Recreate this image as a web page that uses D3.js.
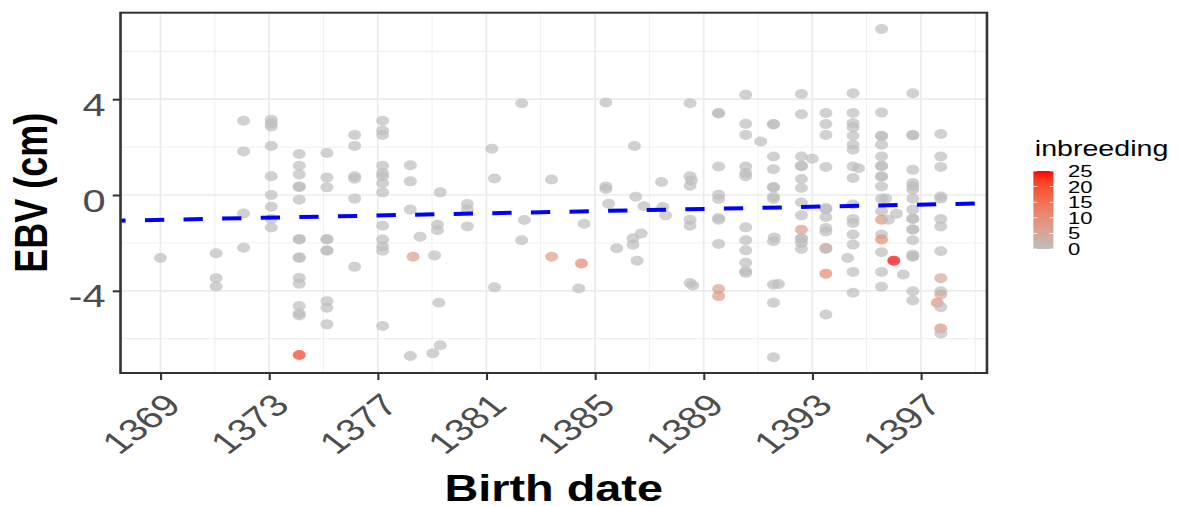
<!DOCTYPE html>
<html>
<head>
<meta charset="utf-8">
<script src="https://cdn.jsdelivr.net/npm/d3@7"></script>
<style>
  body { margin: 0; background: #fff; }
  svg { display: block; }
  text { font-family: "Liberation Sans", Arial, sans-serif; }
</style>
</head>
<body>
<div id="chart"></div>
<script>
// one entry per animal (groups on one line each)
var birthDate = [
  1369.0,
  1371.05, 1371.05, 1371.05,
  1372.06, 1372.06, 1372.06, 1372.06,
  1373.08, 1373.08, 1373.08, 1373.08, 1373.08, 1373.08, 1373.08, 1373.08, 1373.08,
  1374.11, 1374.11, 1374.11, 1374.11, 1374.11, 1374.11, 1374.11, 1374.11, 1374.11, 1374.11, 1374.11, 1374.11, 1374.11, 1374.11, 1374.11, 1374.11,
  1375.13, 1375.13, 1375.13, 1375.13, 1375.13, 1375.13, 1375.13, 1375.13, 1375.13, 1375.13,
  1376.15, 1376.15, 1376.15, 1376.15, 1376.15, 1376.15,
  1377.18, 1377.18, 1377.18, 1377.18, 1377.18, 1377.18, 1377.18, 1377.18, 1377.18, 1377.18, 1377.18, 1377.18, 1377.18,
  1378.2, 1378.2, 1378.2, 1378.2, 1378.3, 1378.56, 1379.09, 1379.03, 1379.3, 1379.2, 1379.2, 1379.25, 1379.3,
  1380.3, 1380.3, 1380.3, 1381.2, 1381.3, 1381.3,
  1382.3, 1382.4, 1382.3, 1383.4, 1383.4, 1384.5, 1384.6, 1384.4,
  1385.4, 1385.4, 1385.4, 1385.5, 1385.8, 1386.45, 1386.5, 1386.8, 1386.4, 1386.4, 1386.7, 1386.55,
  1387.45, 1387.5, 1387.6, 1388.5, 1388.5, 1388.55, 1388.5, 1388.5, 1388.5, 1388.5, 1388.6,
  1389.55, 1389.55, 1389.55, 1389.55, 1389.55, 1389.55, 1389.55, 1389.55, 1389.55, 1389.55,
  1390.55, 1390.55, 1390.55, 1390.55, 1390.55, 1390.55, 1390.55, 1390.55, 1390.55, 1390.55, 1390.55, 1390.55,
  1391.1, 1391.57, 1391.57, 1391.57, 1391.57, 1391.57, 1391.57, 1391.57, 1391.57, 1391.57, 1391.57, 1391.57, 1391.57, 1391.6, 1391.75,
  1392.6, 1392.6, 1392.6, 1392.6, 1392.6, 1392.6, 1392.6, 1392.6, 1392.6, 1392.6, 1392.6, 1392.6, 1392.6, 1392.6, 1393.0,
  1393.5, 1393.5, 1393.5, 1393.5, 1393.5, 1393.5, 1393.5, 1393.5, 1393.5, 1393.5, 1393.5, 1393.5, 1393.5,
  1394.5, 1394.5, 1394.5, 1394.5, 1394.5, 1394.5, 1394.5, 1394.5, 1394.5, 1394.5, 1394.5, 1394.5, 1394.5, 1394.5, 1394.5, 1394.5, 1394.7, 1394.3,
  1395.55, 1395.55, 1395.55, 1395.55, 1395.55, 1395.55, 1395.55, 1395.55, 1395.55, 1395.55, 1395.55, 1395.55, 1395.55, 1395.55, 1395.55, 1395.55, 1395.55, 1395.55, 1395.55,
  1395.7, 1395.8, 1396.1, 1396.0, 1396.35,
  1396.7, 1396.7, 1396.7, 1396.7, 1396.7, 1396.7, 1396.7, 1396.7, 1396.7, 1396.7, 1396.7, 1396.7, 1396.7, 1396.7, 1396.7, 1396.7, 1396.7, 1396.7, 1396.7,
  1397.73, 1397.73, 1397.73, 1397.73, 1397.73, 1397.73, 1397.73, 1397.73, 1397.73, 1397.73, 1397.73, 1397.6, 1397.73, 1397.73, 1397.73
];

var ebv = [
  -2.63,
  -2.43, -3.47, -3.82,
  3.10, 1.82, -0.77, -2.20,
  3.14, 3.00, 2.86, 2.05, 0.78, 0.00, -0.49, -1.00, -1.36,
  1.71, 1.22, 0.86, 0.33, 0.36, -0.20, -1.86, -1.84, -2.63, -2.60, -3.46, -3.70, -4.63, -4.95, -5.03, -6.68,
  1.75, 0.73, 0.32, -1.86, -1.84, -2.33, -2.31, -4.43, -4.71, -5.40,
  2.51, 2.05, 0.78, 0.68, -0.15, -3.00,
  3.10, 2.69, 2.51, 1.22, 0.92, 0.78, 0.50, 0.11, -1.28, -1.86, -2.14, -2.33, -5.47,
  1.24, 0.57, -0.61, -6.72, -2.58, -1.74, -2.52, -6.61, 0.11, -1.24, -1.47, -4.50, -6.27,
  -0.38, -0.61, -1.31, 1.93, 0.69, -3.85,
  3.83, -1.04, -1.89, 0.65, -2.58, -2.86, -1.20, -3.90,
  3.86, 0.36, 0.25, -0.36, -2.22, 2.05, -0.07, -0.47, -1.81, -2.08, -1.61, -2.74,
  0.54, -0.50, -0.85, 3.83, 0.78, 0.61, 0.39, -1.03, -1.28, -3.67, -3.78,
  3.42, 3.40, 1.19, 0.01, -0.17, -0.96, -1.03, -2.04, -3.92, -4.22,
  4.18, 2.97, 2.51, 1.19, 0.92, 0.78, -1.35, -1.89, -2.31, -2.83, -3.18, -3.25,
  2.23, 2.96, 2.94, 1.61, 1.08, 0.33, 0.31, -0.06, -0.17, -1.93, -3.74, -4.50, -6.77, -1.77, -3.72,
  4.22, 3.37, 1.61, 1.22, 1.20, 0.67, 0.29, -0.31, -0.85, -1.45, -1.83, -1.81, -2.00, -2.25, 1.51,
  3.42, 2.96, 2.51, 1.17, -0.54, -0.60, -0.92, -1.38, -1.52, -2.21, -2.25, -3.29, -4.99,
  4.25, 3.42, 3.00, 2.83, 2.47, 2.10, 1.89, 1.19, 0.71, -0.40, -1.00, -1.17, -1.65, -2.07, -3.21, -4.08, 1.12, -2.63,
  6.93, 3.44, 2.47, 2.45, 2.10, 1.61, 1.22, 1.20, 0.78, 0.76, 0.36, -0.15, -0.68, -1.03, -1.65, -1.86, -2.39, -3.21, -3.83,
  -0.15, -1.03, -0.78, -2.74, -3.32,
  4.25, 2.51, 2.49, 1.05, 0.50, 0.36, 0.22, -0.15, -0.61, -1.00, -0.98, -1.45, -1.43, -1.89, -2.49, -2.58, -2.56, -4.02, -4.40,
  2.55, 1.61, 1.17, -0.06, -0.15, -1.00, -1.31, -2.35, -3.47, -4.02, -4.15, -4.50, -4.68, -5.57, -5.78
];

var inbreeding = [
  0,
  0, 0, 0,
  0, 0, 0, 0,
  0, 0, 0, 0, 0, 0, 0, 0, 0,
  0, 0, 0, 0, 0, 0, 0, 0, 0, 0, 0, 0, 0, 0, 0, 22,
  0, 0, 0, 0, 0, 0, 0, 0, 0, 0,
  0, 0, 0, 0, 0, 0,
  0, 0, 0, 0, 0, 0, 0, 0, 0, 0, 0, 0, 0,
  0, 0, 0, 0, 7, 0, 0, 0, 0, 0, 0, 0, 0,
  0, 0, 0, 0, 0, 0,
  0, 0, 0, 0, 7, 11, 0, 0,
  0, 0, 0, 0, 0, 0, 0, 0, 0, 0, 0, 0,
  0, 0, 0, 0, 0, 0, 0, 0, 0, 0, 0,
  0, 0, 0, 0, 0, 0, 0, 0, 6, 8,
  0, 0, 0, 0, 0, 0, 0, 0, 0, 0, 0, 0,
  0, 0, 0, 0, 0, 0, 0, 0, 0, 0, 0, 0, 0, 0, 0,
  0, 0, 0, 0, 0, 0, 0, 0, 0, 7, 0, 0, 0, 0, 0,
  0, 0, 0, 0, 0, 0, 0, 0, 0, 9, 0, 11, 0,
  0, 0, 0, 0, 0, 0, 0, 0, 0, 0, 0, 0, 0, 0, 0, 0, 0, 0,
  0, 0, 0, 0, 0, 0, 0, 0, 0, 0, 0, 0, 0, 9, 0, 10, 0, 0, 0,
  0, 0, 0, 25, 0,
  0, 0, 0, 0, 0, 0, 0, 0, 0, 0, 0, 0, 0, 0, 0, 0, 0, 0, 0,
  0, 0, 0, 0, 0, 0, 0, 0, 5, 0, 4, 9, 0, 9, 0
];

var xTicks = [1369, 1373, 1377, 1381, 1385, 1389, 1393, 1397];
var xMinor = [1371, 1375, 1379, 1383, 1387, 1391, 1395, 1399];
var yTicks = [-4, 0, 4];
var yMinor = [-6, -2, 2, 6];
var legendTicks = [0, 5, 10, 15, 20, 25];

// fitted trend (dashed line), value at both ends of the x range
var trendYear = [1367.53, 1399.43];
var trendEbv = [-1.07, -0.345];

var width = 1181, height = 506;
var stretch = 1.3; // the reference is wider than it is tall, drawn stretched
var vw = width / stretch;

var svg = d3.select("#chart").append("svg")
    .attr("width", width)
    .attr("height", height)
    .attr("viewBox", "0 0 " + vw + " " + height)
    .attr("preserveAspectRatio", "none");

var panel = {left: 92.7, right: 759.2, top: 12.7, bottom: 373};

var x = d3.scaleLinear().domain([1367.53, 1399.43]).range([panel.left, panel.right]);
var y = d3.scaleLinear().domain([-7.43, 7.61]).range([panel.bottom, panel.top]);
var color = d3.scaleLinear().domain([0, 25]).range(["#bebebe", "#ff0000"])
    .interpolate(d3.interpolateLab);

svg.append("clipPath").attr("id", "clip")
  .append("rect")
    .attr("x", panel.left).attr("y", panel.top)
    .attr("width", panel.right - panel.left)
    .attr("height", panel.bottom - panel.top);

// grid
var grid = svg.append("g");
grid.selectAll(".vminor").data(xMinor.filter(function (d) { return x(d) < panel.right; }))
  .enter().append("line")
    .attr("x1", function (d) { return x(d); }).attr("x2", function (d) { return x(d); })
    .attr("y1", panel.top).attr("y2", panel.bottom)
    .attr("stroke", "#ebebeb").attr("stroke-width", 0.7);
grid.selectAll(".hminor").data(yMinor)
  .enter().append("line")
    .attr("x1", panel.left).attr("x2", panel.right)
    .attr("y1", function (d) { return y(d); }).attr("y2", function (d) { return y(d); })
    .attr("stroke", "#ebebeb").attr("stroke-width", 0.9);
grid.selectAll(".vmajor").data(xTicks)
  .enter().append("line")
    .attr("x1", function (d) { return x(d); }).attr("x2", function (d) { return x(d); })
    .attr("y1", panel.top).attr("y2", panel.bottom)
    .attr("stroke", "#ebebeb").attr("stroke-width", 1.3);
grid.selectAll(".hmajor").data(yTicks)
  .enter().append("line")
    .attr("x1", panel.left).attr("x2", panel.right)
    .attr("y1", function (d) { return y(d); }).attr("y2", function (d) { return y(d); })
    .attr("stroke", "#ebebeb").attr("stroke-width", 1.7);

// points
var idx = d3.range(birthDate.length);
svg.append("g").attr("clip-path", "url(#clip)")
  .selectAll("circle")
  .data(idx)
  .enter().append("circle")
    .attr("cx", function (i) { return x(birthDate[i]); })
    .attr("cy", function (i) { return y(ebv[i]); })
    .attr("r", 5)
    .attr("fill", function (i) { return color(inbreeding[i]); })
    .attr("fill-opacity", 0.7);

// dashed trend line
svg.append("line")
    .attr("clip-path", "url(#clip)")
    .attr("x1", x(trendYear[0])).attr("y1", y(trendEbv[0]))
    .attr("x2", x(trendYear[1])).attr("y2", y(trendEbv[1]))
    .attr("stroke", "#0000ff")
    .attr("stroke-width", 4)
    .attr("stroke-dasharray", "14.85,14.85")
    .attr("stroke-dashoffset", 10.9);

// panel border
svg.append("rect")
    .attr("x", panel.left).attr("y", panel.top)
    .attr("width", panel.right - panel.left)
    .attr("height", panel.bottom - panel.top)
    .attr("fill", "none")
    .attr("stroke", "#333333")
    .attr("stroke-width", 2);

// x axis
var xAxis = svg.append("g")
    .attr("transform", "translate(0," + panel.bottom + ")")
    .call(d3.axisBottom(x).tickValues(xTicks).tickSize(7).tickFormat(d3.format("d")));
xAxis.select(".domain").remove();
xAxis.selectAll("line").attr("stroke", "#333333").attr("stroke-width", 1.6);
xAxis.selectAll("text")
    .attr("x", 0).attr("y", 0).attr("dy", null)
    .attr("text-anchor", "end")
    .attr("transform", "translate(16.5,34) rotate(-45)")
    .attr("font-size", 31)
    .attr("fill", "#4d4d4d");

// y axis
var yAxis = svg.append("g")
    .attr("transform", "translate(" + panel.left + ",0)")
    .call(d3.axisLeft(y).tickValues(yTicks).tickSize(6).tickFormat(d3.format("d")));
yAxis.select(".domain").remove();
yAxis.selectAll("line").attr("stroke", "#333333").attr("stroke-width", 2);
yAxis.selectAll("text")
    .attr("x", -11.5).attr("dy", null).attr("y", 16)
    .attr("font-size", 32)
    .attr("fill", "#4d4d4d")
    .text(function (d) { return d < 0 ? "-" + Math.abs(d) : d; });

// axis titles
svg.append("text")
    .attr("x", (panel.left + panel.right) / 2)
    .attr("y", 501)
    .attr("text-anchor", "middle")
    .attr("font-size", 36)
    .attr("font-weight", "bold")
    .text("Birth date");

svg.append("text")
    .attr("transform", "translate(36.5," + (panel.top + panel.bottom) / 2 + ") rotate(-90)")
    .attr("text-anchor", "middle")
    .attr("font-size", 36)
    .attr("font-weight", "bold")
    .text("EBV (cm)");

// legend
var leg = {x: 794.9, w: 15.4, top: 171, bottom: 249};
var ly = d3.scaleLinear().domain([0, 25]).range([leg.bottom, leg.top]);

var grad = svg.append("defs").append("linearGradient")
    .attr("id", "inbGrad")
    .attr("x1", 0).attr("y1", 1).attr("x2", 0).attr("y2", 0);
grad.selectAll("stop").data(d3.range(0, 26, 2.5))
  .enter().append("stop")
    .attr("offset", function (d) { return d / 25; })
    .attr("stop-color", function (d) { return color(d); });

svg.append("text")
    .attr("x", 796)
    .attr("y", 156)
    .attr("font-size", 22)
    .attr("fill", "#000")
    .text("inbreeding");

svg.append("rect")
    .attr("x", leg.x).attr("y", leg.top)
    .attr("width", leg.w).attr("height", leg.bottom - leg.top)
    .attr("fill", "url(#inbGrad)");

var lt = svg.append("g");
lt.selectAll(".tl").data(legendTicks)
  .enter().append("line")
    .attr("x1", leg.x).attr("x2", leg.x + 3)
    .attr("y1", function (d) { return ly(d); }).attr("y2", function (d) { return ly(d); })
    .attr("stroke", "#fff").attr("stroke-width", 0.8);
lt.selectAll(".tr").data(legendTicks)
  .enter().append("line")
    .attr("x1", leg.x + leg.w - 3).attr("x2", leg.x + leg.w)
    .attr("y1", function (d) { return ly(d); }).attr("y2", function (d) { return ly(d); })
    .attr("stroke", "#fff").attr("stroke-width", 0.8);
lt.selectAll("text").data(legendTicks)
  .enter().append("text")
    .attr("x", 821.5)
    .attr("y", function (d) { return ly(d) + 6; })
    .attr("font-size", 17)
    .attr("fill", "#000")
    .text(function (d) { return d; });
</script>
</body>
</html>
